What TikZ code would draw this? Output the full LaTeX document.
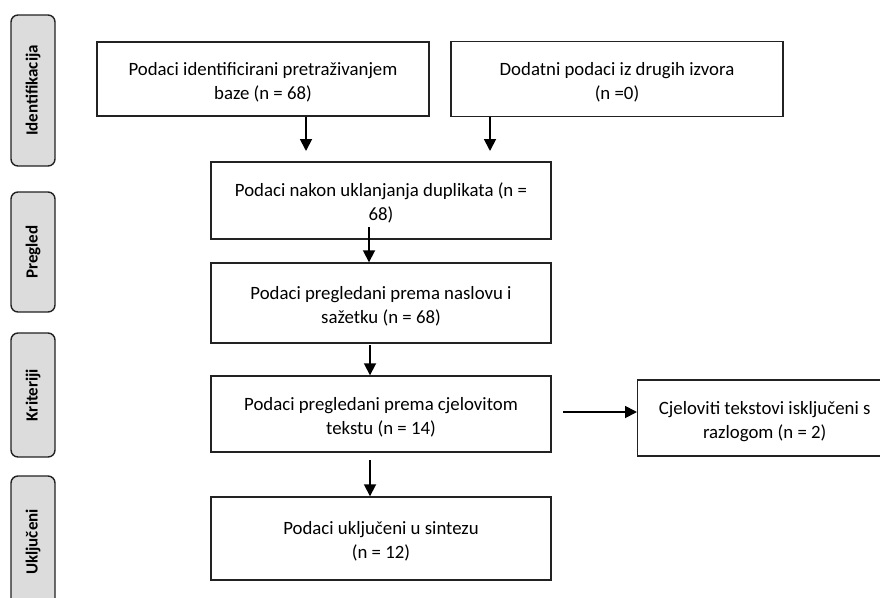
\documentclass[tikz,border=0pt]{standalone}
\usepackage{fontspec}
\setmainfont{Carlito}
\usetikzlibrary{arrows.meta}
\definecolor{edge}{HTML}{222222}
\definecolor{tabfill}{HTML}{DCDCDC}
\newcommand{\boxtext}[1]{\raisebox{-3.5pt}[\height][\depth]{\begin{tabular}{@{}c@{}}#1\end{tabular}}}
\tikzset{
  box/.style={draw=edge, line width=1.4pt, fill=white, inner sep=0pt,
    font=\fontsize{18.8}{24}\selectfont},
  tab/.style={draw=edge, line width=1.4pt, fill=tabfill, rounded corners=7pt, inner sep=0pt,
    minimum height=44pt, font=\bfseries\fontsize{17}{20}\selectfont},
  arr/.style={draw=black, line width=1.8pt, -{Triangle[width=12pt,length=12pt]}},
}
\begin{document}
\begin{tikzpicture}[x=1pt,y=-1pt]
\useasboundingbox (0,0) rectangle (880,597);
% stage tabs
\node[tab, minimum width=151pt, rotate=90] (t1) at (33,90.5) {Identifikacija};
\node[tab, minimum width=120pt, rotate=90] (t2) at (33,252) {Pregled};
\node[tab, minimum width=124pt, rotate=90] (t3) at (33,395) {Kriteriji};
\node[tab, minimum width=132pt, rotate=90] (t4) at (33,542) {Uključeni};
% boxes
\node[box, minimum width=332pt, minimum height=74pt] (b1) at (263,79) {\boxtext{Podaci identificirani pretraživanjem\\baze (n = 68)}};
\node[box, minimum width=332pt, minimum height=75pt] (b2) at (617,79) {\boxtext{Dodatni podaci iz drugih izvora\\(n =0)}};
\node[box, minimum width=340pt, minimum height=77pt] (b3) at (381,200.5) {\boxtext{Podaci nakon uklanjanja duplikata (n =\\68)}};
\node[box, minimum width=340pt, minimum height=80pt] (b4) at (381,303) {\boxtext{Podaci pregledani prema naslovu i\\sažetku (n = 68)}};
\node[box, minimum width=340pt, minimum height=76pt] (b5) at (381,414) {\boxtext{Podaci pregledani prema cjelovitom\\tekstu (n = 14)}};
\node[box, minimum width=340pt, minimum height=83pt] (b6) at (381,538.5) {\boxtext{Podaci uključeni u sintezu\\(n = 12)}};
\node[box, minimum width=254pt, minimum height=76pt, anchor=west] (b7) at (637,418) {\boxtext{Cjeloviti tekstovi isključeni s\\razlogom (n = 2)}};
% free arrow ends
\coordinate (a1) at (306,151);
\coordinate (a2) at (490,151);
\coordinate (s3) at (369,227);
\coordinate (s4) at (370,345);
\coordinate (s5) at (370,460);
\coordinate (s7) at (563,412);
% connectors
\draw[arr] (a1 |- b1.south) -- (a1);
\draw[arr] (a2 |- b2.south) -- (a2);
\draw[arr] (s3) -- (s3 |- b4.north);
\draw[arr] (s4) -- (s4 |- b5.north);
\draw[arr] (s5) -- (s5 |- b6.north);
\draw[arr] (s7) -- (s7 -| b7.west);
\end{tikzpicture}
\end{document}
